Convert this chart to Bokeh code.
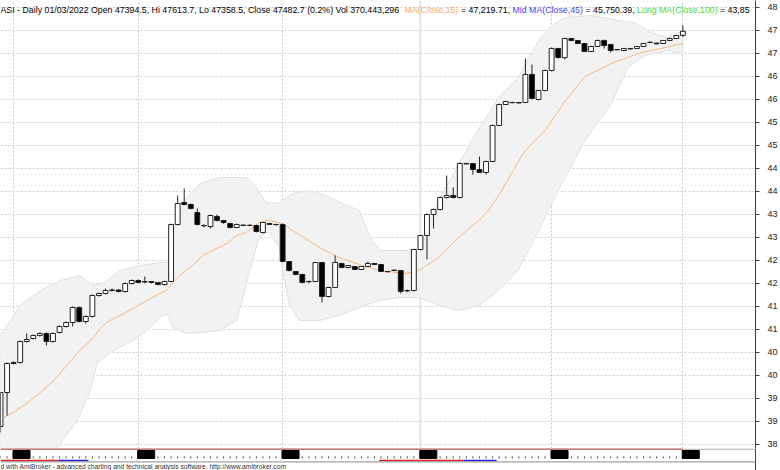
from bokeh.plotting import figure
from bokeh.models import Range1d, FixedTicker, Label, ColumnDataSource, Span
from bokeh.layouts import column
from bokeh.embed import file_html
from bokeh.resources import INLINE

# ---------------- data ----------------
bars = list(range(1, 106))
opens = [38891, 39630, 40283, 40283, 40739, 40804, 40870, 40913, 40739, 40935,
         41065, 41152, 41478, 41174, 41283, 41739, 41783, 41848, 41859, 41826,
         42000, 42065, 42043, 42043, 42022, 41978, 42043, 43283, 43761, 43717,
         43543, 43261, 43239, 43456, 43370, 43304, 43217, 43270, 43261, 43261,
         43109, 43304, 43283, 43283, 42478, 42261, 42196, 42043, 42043, 42457,
         41717, 41913, 42435, 42348, 42370, 42304, 42370, 42435, 42413, 42261,
         42290, 42283, 41848, 41848, 42739, 43043, 43500, 43609, 43870, 43913,
         43870, 44609, 44609, 44478, 44413, 44652, 45435, 45891, 45935, 45935,
         45935, 46543, 46000, 46196, 46630, 47109, 46913, 47326, 47283, 47217,
         47043, 47152, 47283, 47196, 47087, 47065, 47109, 47109, 47152, 47239,
         47225, 47217, 47283, 47326, 47394.5]
highs = [39630, 40283, 40304, 40761, 40913, 40891, 40935, 40935, 40935, 41087,
         41174, 41500, 41500, 41304, 41761, 41804, 41891, 41891, 41870, 42022,
         42087, 42087, 42152, 42050, 42030, 42060, 43300, 43913, 44065, 43739,
         43630, 43290, 43500, 43500, 43380, 43320, 43300, 43280, 43290, 43280,
         43340, 43320, 43300, 43300, 42490, 42270, 42210, 42065, 42470, 42470,
         41930, 42609, 42450, 42400, 42380, 42380, 42478, 42440, 42420, 42270,
         42300, 42290, 41870, 42750, 43060, 43520, 43630, 43890, 44348, 44087,
         44630, 44620, 44620, 44761, 44670, 45450, 45910, 45970, 45950, 45945,
         46891, 46761, 46210, 46650, 47130, 47120, 47340, 47340, 47290, 47230,
         47165, 47300, 47300, 47210, 47095, 47120, 47120, 47165, 47230, 47260,
         47235, 47295, 47340, 47400, 47613.7]
lows = [38761, 39130, 40239, 40261, 40717, 40783, 40848, 40652, 40717, 40913,
        41043, 41065, 41152, 41130, 41261, 41717, 41761, 41826, 41804, 41804,
        41978, 42000, 42000, 42000, 41960, 41960, 42030, 43260, 43700, 43610,
        43260, 43220, 43195, 43350, 43300, 43195, 43200, 43250, 43245, 43110,
        43090, 43270, 43260, 42460, 42260, 42180, 42000, 42000, 42030, 41587,
        41700, 41900, 42330, 42330, 42290, 42290, 42360, 42400, 42250, 42245,
        42270, 41783, 41810, 41830, 42720, 42522, 43196, 43590, 43850, 43850,
        43850, 44590, 44370, 44400, 44370, 44640, 45420, 45880, 45920, 45915,
        45920, 46000, 45980, 46180, 46610, 46891, 46870, 47270, 47200, 47030,
        47030, 47140, 47109, 47022, 47070, 47050, 47090, 47095, 47140, 47225,
        47200, 47205, 47270, 47315, 47358.5]
closes = [39630, 40261, 40261, 40739, 40783, 40870, 40913, 40739, 40913, 41065,
          41152, 41478, 41174, 41283, 41739, 41783, 41848, 41860, 41826, 42000,
          42065, 42022, 42033, 42022, 41978, 42043, 43283, 43739, 43717, 43630,
          43283, 43255, 43478, 43370, 43326, 43217, 43283, 43261, 43265, 43130,
          43326, 43283, 43280, 42478, 42283, 42196, 42022, 42040, 42457, 41717,
          41913, 42457, 42348, 42391, 42304, 42370, 42435, 42413, 42261, 42255,
          42283, 41826, 41840, 42739, 43043, 43500, 43609, 43870, 43913, 43870,
          44609, 44600, 44478, 44413, 44652, 45435, 45891, 45957, 45930, 45925,
          46543, 46022, 46196, 46630, 47109, 46913, 47326, 47283, 47217, 47043,
          47152, 47283, 47174, 47065, 47080, 47109, 47100, 47152, 47217, 47245,
          47210, 47283, 47326, 47391, 47482.7]

# MA(Close,15) (bar, value)
ma_bar = [1.5, 3.0, 5.05, 7.1, 9.1, 11.1, 13.1, 15.2, 16.2, 17.2, 19.2, 21.2, 23.3,
          25.3, 26.3, 27.3, 28.3, 30.3, 31.8, 35.5, 37.0, 38.5, 40.5, 41.5, 42.7,
          44.0, 45.5, 47.0, 49.6, 52.6, 55.7, 58.7, 62.8, 64.8, 67.8, 70.8, 73.9,
          75.4, 77.4, 80.0, 81.0, 84.0, 87.1, 90.1, 94.1, 98.2, 102.3, 105.0]
ma_val = [39087, 39202, 39398, 39630, 39891, 40217, 40543, 40833, 41022, 41158,
          41304, 41457, 41630, 41783, 41848, 42028, 42174, 42391, 42609, 42870,
          43043, 43109, 43326, 43370, 43348, 43304, 43152, 43022, 42783, 42565,
          42413, 42283, 42217, 42283, 42565, 43000, 43370, 43587, 44022, 44674,
          44891, 45326, 45978, 46500, 46783, 47000, 47130, 47219.71]

# band edges (bar, value)
up_bar = [1.0, 4.0, 7.1, 10.1, 13.1, 15.1, 16.9, 19.2, 22.3, 25.3, 26.5, 27.3, 29.4,
          31.4, 34.4, 38.5, 40.0, 41.5, 43.1, 44.0, 45.5, 48.1, 50.6, 53.1, 55.7,
          57.6, 59.1, 62.8, 64.8, 67.8, 72.8, 76.9, 79.9, 83.0, 85.0, 87.1, 91.0,
          93.6, 95.1, 97.7, 100.1, 102.7, 105.0]
up_val = [40870, 41522, 41848, 42065, 42174, 41957, 42022, 42283, 42391, 42457,
          42457, 43217, 43870, 44174, 44304, 44304, 44087, 43761, 43739, 43804,
          43957, 44022, 43913, 43739, 43587, 42935, 42717, 42717, 42783, 43804,
          45109, 46043, 46478, 47283, 47609, 47783, 47826, 47761, 47717, 47674,
          47457, 47348, 47500]
lo_bar = [1.0, 7.1, 9.7, 12.7, 14.7, 15.7, 17.7, 21.2, 23.3, 25.3, 26.4, 27.3, 29.4,
          31.4, 34.4, 37.0, 39.0, 40.5, 42.0, 43.5, 44.0, 45.0, 46.5, 49.6, 52.6,
          55.7, 58.7, 61.7, 64.8, 67.8, 70.8, 73.9, 76.9, 79.9, 83.0, 86.0, 90.1,
          94.1, 96.6, 99.2, 102.7, 105.0]
lo_val = [37717, 38152, 38435, 39022, 39674, 40261, 40500, 40761, 40978, 41261,
          41348, 41043, 40913, 40935, 40978, 41196, 42283, 43043, 43109, 42783,
          42283, 41565, 41196, 41196, 41304, 41478, 41630, 41696, 41696, 41522,
          41413, 41522, 41848, 42283, 43152, 44022, 45109, 45913, 46696, 46957,
          47065, 47000]

month_start = [3, 22, 44, 65, 85, 105]
selected_bar = 65
price_ticks = [38500, 39000, 39500, 40000, 40500, 41000, 41500, 42000, 42500, 43000,
               43500, 44000, 44500, 45000, 45500, 46000, 46500, 47000, 47500, 48000]
tick_labels = ["38", "39", "39", "40", "40", "41", "41", "42", "42", "43",
               "43", "44", "44", "45", "45", "46", "46", "47", "47", "48"]
state_red = [(1.0, 9.8), (58.7, 71.6)]
state_blue = [(9.8, 14.4), (71.6, 76.6)]

title_parts = [
    ("ASI - Daily 01/03/2022 Open 47394.5, Hi 47613.7, Lo 47358.5, Close 47482.7 (0.2%) Vol 370,443,296", "#000000"),
    ("MA(Close,15)", "#f5ad70"),
    ("= 47,219.71,", "#000000"),
    ("Mid MA(Close,45)", "#4646ee"),
    ("= 45,750.39,", "#000000"),
    ("Long MA(Close,100)", "#44dd44"),
    ("= 43,85", "#000000"),
]
title_x = [0, 404, 460.5, 512, 585, 636.5, 719.5]

# ---------------- main pane ----------------
XR = Range1d(1.0, 116.07)
p = figure(width=780, height=448, x_range=XR, y_range=Range1d(38413, 48152),
           output_backend="svg", toolbar_location=None, y_axis_location="right",
           min_border_left=0, min_border_right=22, min_border_top=0, min_border_bottom=0)
p.outline_line_color = None
p.background_fill_color = "white"
p.border_fill_color = "white"
p.xaxis.visible = False

p.xgrid.ticker = FixedTicker(ticks=month_start)
p.xgrid.grid_line_color = "#c4c4c4"
p.xgrid.grid_line_dash = "2 2"
p.ygrid.ticker = FixedTicker(ticks=price_ticks)
p.ygrid.grid_line_color = "#cfcfcf"
p.ygrid.grid_line_dash = "2 2"

ax = p.yaxis[0]
ax.ticker = FixedTicker(ticks=price_ticks)
ax.major_label_overrides = {t: l for t, l in zip(price_ticks, tick_labels)}
ax.axis_line_color = "#404040"
ax.major_tick_line_color = "#404040"
ax.major_tick_in = 0
ax.major_tick_out = 4
ax.minor_tick_line_color = None
ax.major_label_standoff = 8
ax.major_label_text_font = "Liberation Sans"
ax.major_label_text_font_size = "9px"
ax.major_label_text_color = "#222222"

# band
p.patch(x=up_bar + lo_bar[::-1], y=up_val + lo_val[::-1],
        fill_color="#f2f2f2", line_color="#e0e0e0", line_width=1)

# selected bar line
p.add_layout(Span(location=selected_bar, dimension="height",
                  line_color="#e2e2e2", line_width=2, level="underlay"))

# MA line
p.line(ma_bar, ma_val, line_color="#f9b87c", line_width=1)

# candles
up = [c >= o for o, c in zip(opens, closes)]
src = ColumnDataSource(dict(
    x=bars, o=opens, h=highs, l=lows, c=closes,
    top=[max(o, c) for o, c in zip(opens, closes)],
    bot=[min(o, c) for o, c in zip(opens, closes)],
    fill=["white" if u else "black" for u in up],
))
p.segment(x0="x", y0="h", x1="x", y1="l", source=src, line_color="#222222", line_width=1)
p.vbar(x="x", top="top", bottom="bot", width=0.74, source=src,
       fill_color="fill", line_color="#222222", line_width=1)

# title
for (txt, col), xo in zip(title_parts, title_x):
    p.add_layout(Label(x=XR.start, y=p.y_range.end, x_offset=xo, y_offset=-9.5,
                       text=txt, text_color=col, text_font="Liberation Sans",
                       text_font_size="8.8px", text_baseline="alphabetic"))

# price tag
p.add_layout(Label(x=XR.end, y=closes[-1], x_offset=4, text="47.",
                   text_color="white", text_font="Liberation Sans",
                   text_font_size="9px", text_font_style="bold",
                   text_baseline="middle", background_fill_color="black",
                   padding=2))

# ---------------- bottom strip + footer ----------------
p2 = figure(width=780, height=22, x_range=XR, y_range=Range1d(0, 22),
            output_backend="svg", toolbar_location=None, y_axis_location="right",
            min_border_left=0, min_border_right=22, min_border_top=0, min_border_bottom=0)
p2.outline_line_color = None
p2.xaxis.visible = False
p2.grid.visible = False
p2.yaxis.ticker = FixedTicker(ticks=[])
p2.yaxis.axis_line_color = "#404040"
p2.yaxis.major_label_text_font_size = "0px"

p2.add_layout(Span(location=8.6, dimension="width", line_color="#8a8a8a", line_width=1))
p2.add_layout(Span(location=21.4, dimension="width", line_color="#9a9a9a", line_width=1))
p2.segment(x0=bars, y0=[12.0] * len(bars), x1=bars, y1=[14.2] * len(bars),
           line_color="#555555", line_width=1)
p2.quad(left=[m - 0.1 for m in month_start], right=[m + 2.5 for m in month_start],
        bottom=12, top=20, fill_color="black", line_color="black")
p2.line(x=bars, y=[21.4] * len(bars), line_color="#e02020", line_width=1.5)
p2.segment(x0=[a for a, b in state_red], x1=[b for a, b in state_red],
           y0=10, y1=10, line_color="#e02020", line_width=1.5)
p2.segment(x0=[a for a, b in state_blue], x1=[b for a, b in state_blue],
           y0=10, y1=10, line_color="#2020e0", line_width=1.5)

p2.add_layout(Label(x=XR.start, y=0, y_offset=1, x_offset=0,
                    text="d with AmiBroker - advanced charting and technical analysis software. http://www.amibroker.com",
                    text_color="#333333", text_font="Liberation Sans",
                    text_font_size="6.7px", text_baseline="bottom"))

layout = column(p, p2, spacing=0)
open("out.html", "w").write(file_html(layout, INLINE))
